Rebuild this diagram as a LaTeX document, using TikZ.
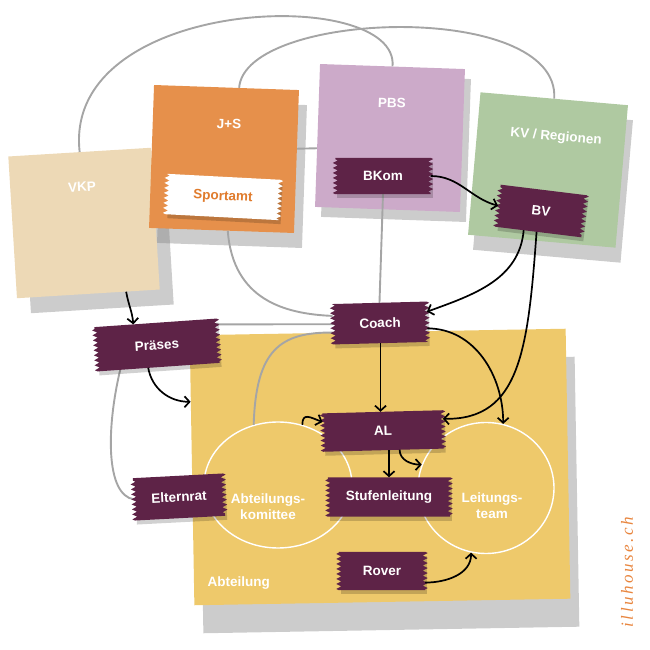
\documentclass[tikz,border=0pt]{standalone}
\usepackage{fontspec}
\setmainfont{Liberation Sans}
\newfontfamily\signfont[LetterSpace=15]{Liberation Serif}
\usetikzlibrary{arrows.meta, shapes.geometric, shadows, decorations.pathmorphing}
\definecolor{vkpc}{HTML}{EDD9B6}
\definecolor{jsc}{HTML}{E6904B}
\definecolor{pbsc}{HTML}{CCAAC9}
\definecolor{kvc}{HTML}{AFC9A1}
\definecolor{abtc}{HTML}{EEC96B}
\definecolor{tapec}{HTML}{5E2347}
\definecolor{sportc}{HTML}{E07B2C}
\definecolor{linec}{HTML}{A5A5A5}
\definecolor{signc}{HTML}{E8853E}
\pgfdeclarelayer{background}
\pgfdeclarelayer{lines}
\pgfdeclarelayer{tapes}
\pgfsetlayers{background,lines,tapes,main}
\tikzset{
  note/.style={fill=#1, inner sep=0pt, minimum width=145pt, minimum height=143pt},
  notesh/.style 2 args={drop shadow={shadow xshift=#1, shadow yshift=#2,
                        fill=black!50, opacity=.4}},
  notetext/.style={text=white, font=\bfseries\fontsize{13.5}{16}\selectfont, align=center},
  tape/.style={text=white, font=\bfseries\fontsize{13.5}{16}\selectfont,
               inner sep=0pt, minimum height=38pt},
  zz/.style={decoration={zigzag, segment length=5pt, amplitude=2.5pt}},
  grayline/.style={linec, line width=1.9pt},
  arr/.style={-{Straight Barb[length=5pt,width=11pt]}, line width=1.7pt},
  circ/.style={ellipse, draw=white, line width=1.4pt, inner sep=0pt},
}

\begin{document}
\begin{tikzpicture}[x=1pt, y=1pt]
  \useasboundingbox (0,0) rectangle (650,650);

  % sticky notes
  \begin{pgfonlayer}{background}
    \node[note=vkpc, notesh={14pt}{-15pt}, rotate=3.5, minimum width=143pt, minimum height=142pt] (vkp) at (84,427) {};
    \node[note=jsc, notesh={8pt}{-15pt}, rotate=-2] (js) at (224,491) {};
    \node[note=pbsc, notesh={6pt}{-10pt}, rotate=-2] (pbs) at (390,512) {};
    \node[note=kvc, notesh={5pt}{-15pt}, rotate=-5, minimum width=148pt] (kv) at (548,480) {};
    \node[note=abtc, notesh={9pt}{-28pt}, rotate=1, minimum width=376pt, minimum height=270pt] (abt) at (380,183) {};

    \node[notetext, rotate=3] (vkpt) at (82,463) {VKP};
    \node[notetext, rotate=-2] (jst) at (229,526) {J+S};
    \node[notetext, rotate=-2] (pbst) at (392,547) {PBS};
    \node[notetext, rotate=-5] (kvt) at (556,513) {KV / Regionen};
    \node[notetext, anchor=west] (abtt) at (204,67) {Abteilung};

    \node[circ, minimum width=148pt, minimum height=126pt] (akom) at (278,165) {};
    \node[circ, minimum width=136pt, minimum height=131pt] (lt) at (486,162) {};
    \node[notetext] (akomt) at (268,143) {Abteilungs-\\komittee};
    \node[notetext] (ltt) at (492,144) {Leitungs-\\team};
  \end{pgfonlayer}

  % tapes
  \node[tape, text=sportc, minimum width=113pt, minimum height=40pt, rotate=-3] (sportamt) at (223,453) {Sportamt};
  \node[tape, minimum width=95pt, minimum height=36pt] (bkom) at (383,474) {BKom};
  \node[tape, minimum width=86pt, minimum height=42pt, rotate=-7] (bv) at (541,439) {BV};
  \node[tape, minimum width=94pt, minimum height=40pt, rotate=1.5] (coach) at (380,327) {Coach};
  \node[tape, minimum width=122pt, minimum height=44pt, rotate=4] (praeses) at (157,305) {Präses};
  \node[tape, minimum width=120pt, rotate=1.5] (al) at (383,219) {AL};
  \node[tape, minimum width=122pt, minimum height=39pt] (stufen) at (389,153) {Stufenleitung};
  \node[tape, minimum width=90pt, minimum height=42pt, rotate=3] (elternrat) at (179,153) {Elternrat};
  \node[tape, minimum width=86pt] (rover) at (382,79) {Rover};

  \begin{pgfonlayer}{tapes}
    \foreach \tp/\tc in {sportamt/white, bkom/tapec, bv/tapec, coach/tapec, praeses/tapec,
                         al/tapec, stufen/tapec, elternrat/tapec, rover/tapec}{
      \fill[black, opacity=.18] ([shift={(2,-4)}]\tp.north west) -- ([shift={(2,-4)}]\tp.north east)
        -- ([shift={(2,-4)}]\tp.south east) -- ([shift={(2,-4)}]\tp.south west) -- cycle;
      \fill[\tc] (\tp.north west) -- (\tp.north east) decorate[zz]{-- (\tp.south east)}
        -- (\tp.south west) decorate[zz]{-- (\tp.north west)} -- cycle;
    }
  \end{pgfonlayer}

  % grey links
  \begin{pgfonlayer}{lines}
    \draw[grayline] (vkp.north) .. controls (62,655) and (400,665) .. (pbs.north);
    \draw[grayline] (js.80) .. controls (245,640) and (560,650) .. (kv.north);
    \draw[grayline] (js.10) -- (pbs.190);
    \draw[grayline] (js.-85) .. controls (233,350) and (285,336) .. (coach.170);
    \draw[grayline] (bkom.south) -- (coach.north);
    \draw[grayline] (praeses.15) -- (coach.west);
    \draw[grayline] (akom.112) .. controls (256,300) and (280,318) .. (coach.-170);
    \draw[grayline] (praeses.-150) .. controls (106,220) and (106,155) .. (elternrat.west);
  \end{pgfonlayer}

  % arrows
  \draw[arr] (vkp.-62) to[out=-80, in=95] (praeses.135);
  \draw[arr] (praeses.-115) to[out=-80, in=180] (abt.160);
  \draw[arr] (bkom.east) to[out=0, in=165] (bv.west);
  \draw[arr] (bv.-125) to[out=-95, in=20] (coach.12);
  \draw[arr] (bv.-95) .. controls (528,300) and (520,230) .. (al.10);
  \draw[arr] (coach.-8) to[out=0, in=90] (lt.75);
  \draw[arr] (coach.south) -- (coach.south |- al.north);
  \draw[arr] (akom.68) to[out=90, in=160, looseness=1.6] (al.170);
  \draw[arr] (al.south -| stufen.north) -- (stufen.north);
  \draw[arr] (al.-50) to[out=-90, in=180] (lt.160);
  \draw[arr] (rover.-15) to[out=0, in=-90] (lt.-103);

  \node[rotate=90, text=signc, font=\signfont\itshape\fontsize{17}{17}\selectfont] (sign) at (627,78) {illuhouse.ch};
\end{tikzpicture}
\end{document}
